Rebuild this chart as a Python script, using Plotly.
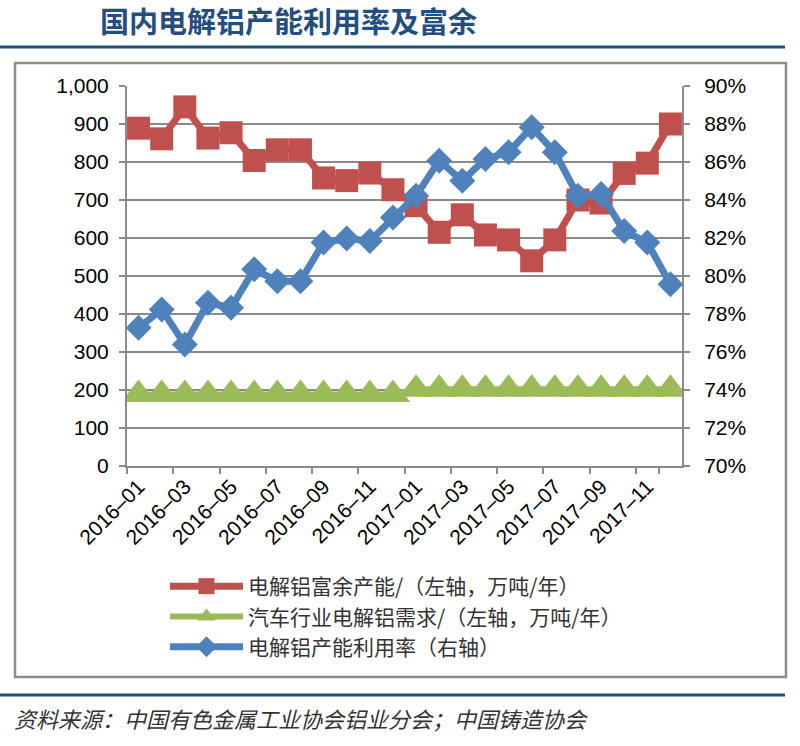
import plotly.graph_objects as go

months = [f"2016-{m:02d}" for m in range(1, 13)] + [f"2017-{m:02d}" for m in range(1, 13)]
tick_labels = months[::2]

surplus = [889, 861, 945, 863, 877, 804, 832, 832, 758, 751, 771, 727,
           685, 615, 661, 608, 595, 540, 595, 700, 692, 770, 797, 900]
auto_demand = [188] * 12 + [202] * 12
utilization = [0.7727, 0.7824, 0.7639, 0.7859, 0.7833, 0.8035, 0.7973, 0.7973,
               0.8176, 0.8197, 0.8184, 0.8308, 0.8422, 0.8607, 0.8501, 0.8616,
               0.8651, 0.8783, 0.8651, 0.8422, 0.8431, 0.8237, 0.8176, 0.7956]

names = ["电解铝富余产能/（左轴，万吨/年）",
         "汽车行业电解铝需求/（左轴，万吨/年）",
         "电解铝产能利用率（右轴）"]

RED, GREEN, BLUE = "#C0504D", "#9BBB59", "#4F81BD"
GRID = "#8A8A8A"
TICKFONT = dict(family="Liberation Sans, Arial", size=21, color="#000000")
XTICKFONT = dict(family="Liberation Sans, Arial", size=21, color="#000000")

fig = go.Figure()
fig.add_trace(go.Scatter(x=months, y=surplus, name=names[0], mode="lines+markers",
                         line=dict(color=RED, width=7),
                         marker=dict(symbol="square", size=23, color=RED)))
fig.add_trace(go.Scatter(x=months, y=auto_demand, name=names[1], mode="lines+markers",
                         line=dict(color=GREEN, width=6),
                         marker=dict(symbol="triangle-up", size=30, color=GREEN)))
fig.add_trace(go.Scatter(x=months, y=utilization, name=names[2], mode="lines+markers",
                         yaxis="y2",
                         line=dict(color=BLUE, width=7),
                         marker=dict(symbol="diamond", size=20, color=BLUE)))

# plot area in pixels: x 127..682, y 86..466
L, R, T, B = 127, 682, 86, 466
W, H = R - L, B - T
px = lambda x: (x - L) / W
py = lambda y: (B - y) / H

fig.update_layout(
    width=800, height=746, autosize=False,
    margin=dict(l=L, r=800 - R, t=T, b=746 - B, autoexpand=False),
    paper_bgcolor="white", plot_bgcolor="white",
    title=dict(text="<b>国内电解铝产能利用率及富余</b>", x=100 / 800, xanchor="left",
               y=1 - 23 / 746, yanchor="middle",
               font=dict(family="Noto Sans CJK SC", size=29, color="#254E80")),
    xaxis=dict(type="category", range=[-0.5, 23.5], tickmode="array",
               tickvals=tick_labels, ticktext=[t.replace("-", "–") for t in tick_labels],
               tickson="boundaries", ticklabelshift=0, ticklabelstandoff=-2,
               tickangle=-45, tickfont=XTICKFONT, ticks="outside", ticklen=6,
               tickcolor=GRID, tickwidth=2, showline=True, linecolor=GRID,
               linewidth=2, showgrid=False, zeroline=False, automargin=False),
    yaxis=dict(range=[0, 1000], dtick=100, tickformat=",", tickfont=TICKFONT,
               ticks="outside", ticklen=6, tickcolor=GRID, tickwidth=2,
               showline=True, linecolor=GRID, linewidth=2, showgrid=True,
               gridcolor=GRID, gridwidth=2, zeroline=False, ticklabelstandoff=6,
               automargin=False),
    yaxis2=dict(range=[0.70, 0.90], dtick=0.02, tickformat=".0%", tickfont=TICKFONT,
                overlaying="y", side="right", ticks="outside", ticklen=6,
                tickcolor=GRID, tickwidth=2, showline=True, linecolor=GRID,
                linewidth=2, showgrid=False, zeroline=False, ticklabelstandoff=10,
                automargin=False),
    legend=dict(xref="container", yref="container", x=165 / 800, y=1 - 566 / 746,
                xanchor="left", yanchor="top", orientation="v",
                font=dict(family="Noto Sans CJK SC", size=21, color="#333333"),
                itemwidth=73, tracegroupgap=0, bgcolor="rgba(0,0,0,0)"),
    showlegend=True,
)

shapes = [
    dict(type="line", xref="paper", yref="paper", x0=px(0), x1=px(785),
         y0=py(47), y1=py(47), line=dict(color="#1F4E79", width=3)),
    dict(type="rect", xref="paper", yref="paper", x0=px(15), x1=px(786),
         y0=py(677), y1=py(63), line=dict(color="#8C8C8C", width=2.5)),
    dict(type="line", xref="paper", yref="paper", x0=px(0), x1=px(785),
         y0=py(695), y1=py(695), line=dict(color="#1F4E79", width=3)),
]
fig.update_layout(shapes=shapes)

fig.add_annotation(text="<i>资料来源：中国有色金属工业协会铝业分会；中国铸造协会</i>",
                   xref="paper", yref="paper", x=px(12), y=py(718),
                   xanchor="left", yanchor="middle", showarrow=False,
                   font=dict(family="Noto Sans CJK SC", size=22, color="#333333"))

fig.write_html("out.html", config={"displayModeBar": False},
               post_script="document.body.style.margin='0px';")
